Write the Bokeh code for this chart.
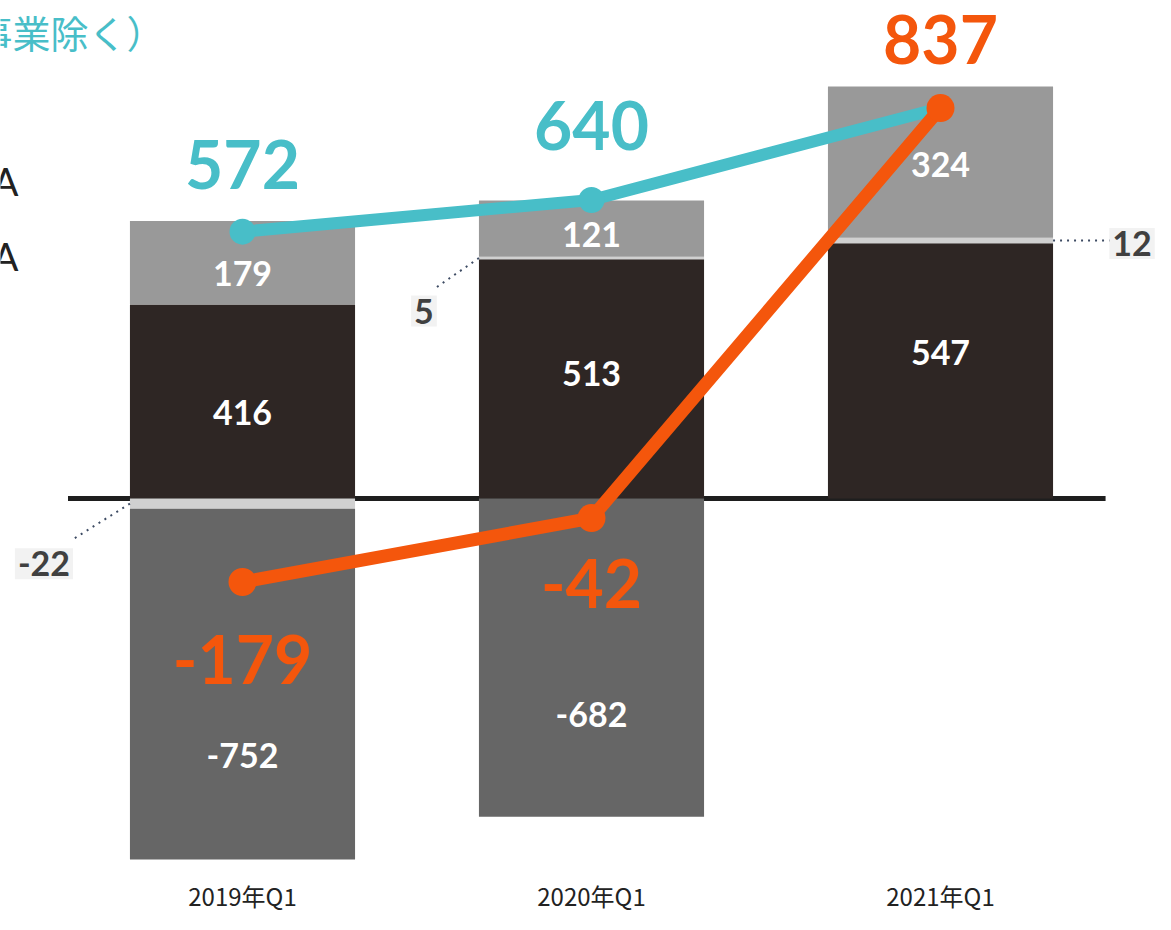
from bokeh.plotting import figure
from bokeh.models import Range1d, Label
from bokeh.core.properties import value
from bokeh.embed import file_html
from bokeh.resources import INLINE

# ---------------- data ----------------
categories = ["2019年Q1", "2020年Q1", "2021年Q1"]
dark = [416, 513, 547]          # dark segment
light = [-22, 5, 12]            # thin light segment
gray = [179, 121, 324]          # top gray segment
neg = [-752, -682, 0]           # negative gray segment
cyan_vals = [572, 640, 837]
orange_vals = [-179, -42, 837]
cyan_labels = ["572", "640", ""]
orange_labels = ["-179", "-42", "837"]
title_text = "事業除く）"
legend_texts = ["A", "A"]

# ---------------- geometry / style ----------------
W, H = 1155, 914
S = 0.4665          # px per unit
ZERO_PX = 498
X0_PX = 242
XSTEP = 349
BW = 0.645

C_DARK = "#2e2624"
C_GRAY = "#999999"
C_LIGHT = "#d0d0d0"
C_NEG = "#666666"
C_CYAN = "#48bec8"
C_ORANGE = "#f4560c"


def dy(px):
    """screen pixels (down positive) -> data units"""
    return -px / S


def dx(px):
    return px / XSTEP


p = figure(width=W, height=H,
           x_range=Range1d(-X0_PX / XSTEP, (W - X0_PX) / XSTEP),
           y_range=Range1d(-(H - ZERO_PX) / S, ZERO_PX / S),
           output_backend="svg", toolbar_location=None,
           x_axis_type=None, y_axis_type=None, min_border=0,
           outline_line_color=None, background_fill_color="white",
           border_fill_color="white")
p.grid.visible = False

xs = list(range(len(categories)))

# baseline (axis) line
p.segment(x0=[xs[0] - 0.5], y0=[0], x1=[xs[-1] + 0.473], y1=[0],
          line_color="#1e1e1e", line_width=5)

# stacked bars (computed from the series)
dark_b = [0] * 3
dark_t = dark
light_b = [d if l > 0 else l for d, l in zip(dark, light)]
light_t = [d + l if l > 0 else 0 for d, l in zip(dark, light)]
gray_b = [d + max(l, 0) for d, l in zip(dark, light)]
gray_t = [b + g for b, g in zip(gray_b, gray)]
neg_t = [min(l, 0) for l in light]
neg_b = [t + n for t, n in zip(neg_t, neg)]

p.vbar(x=xs, bottom=dark_b, top=dark_t, width=BW, fill_color=C_DARK, line_color=None)
p.vbar(x=xs, bottom=light_b, top=light_t, width=BW, fill_color=C_LIGHT, line_color=None)
p.vbar(x=xs, bottom=gray_b, top=gray_t, width=BW, fill_color=C_GRAY, line_color=None)
p.vbar(x=xs, bottom=neg_b, top=neg_t, width=BW, fill_color=C_NEG, line_color=None)

# leader lines + boxed labels for the thin light segments
anchor_side = [-1, -1, 1]
line_end_off = [(-56, 35), (-45, 31), (57, 0)]
label_off = [(-86, 60), (-55, 53), (79, 3)]
for i, l in enumerate(light):
    ax = xs[i] + anchor_side[i] * BW / 2
    ay = (light_b[i] + light_t[i]) / 2
    ex, ey = ax + dx(line_end_off[i][0]), ay + dy(line_end_off[i][1])
    p.segment(x0=[ax], y0=[ay], x1=[ex], y1=[ey], line_color="#3d4b63",
              line_width=2, line_dash="2 5")
    lx, ly = ax + dx(label_off[i][0]), ay + dy(label_off[i][1])
    p.add_layout(Label(x=lx, y=ly, text=str(l), text_align="center",
                       text_baseline="middle", text_font="Lato",
                       text_font_style="bold", text_font_size="34px",
                       text_color="#404040", background_fill_color="#f2f2f2",
                       padding=3))

# white segment labels
seg_centers, seg_texts, seg_x = [], [], []
white_shift = {"dark": [11, -5, -18], "gray": [11, 6, 2], "neg": [71, 57, 0]}
for i in xs:
    for key, b, t, v in (("dark", dark_b[i], dark_t[i], dark[i]),
                         ("gray", gray_b[i], gray_t[i], gray[i]),
                         ("neg", neg_b[i], neg_t[i], neg[i])):
        if v == 0:
            continue
        seg_x.append(i)
        seg_centers.append((b + t) / 2 + dy(white_shift[key][i]))
        seg_texts.append(str(v))
p.text(x=seg_x, y=seg_centers, text=seg_texts, text_color="white",
       text_font=value("Lato"), text_font_style="bold", text_font_size="34px",
       text_align="center", text_baseline="middle")

# lines
p.line(x=xs, y=cyan_vals, line_color=C_CYAN, line_width=12)
p.scatter(x=xs, y=cyan_vals, size=26, fill_color=C_CYAN, line_color=None)
p.line(x=xs, y=orange_vals, line_color=C_ORANGE, line_width=13)
p.scatter(x=xs, y=orange_vals, size=28, fill_color=C_ORANGE, line_color=None)

# big value labels
cyan_off = [-67, -74, -75]
orange_off = [77, 65, -69]
p.text(x=xs, y=[v + dy(o) for v, o in zip(cyan_vals, cyan_off)], text=cyan_labels,
       text_color=C_CYAN, text_font=value("Lato"), text_font_style="bold",
       text_font_size="66px", text_align="center", text_baseline="middle")
p.text(x=xs, y=[v + dy(o) for v, o in zip(orange_vals, orange_off)], text=orange_labels,
       text_color=C_ORANGE, text_font=value("Lato"), text_font_style="bold",
       text_font_size="66px", text_align="center", text_baseline="middle")

# category labels
y_bottom = -(H - ZERO_PX) / S
p.text(x=xs, y=[y_bottom + 19 / S] * 3, text=categories, text_color="#222222",
       text_font=value("Noto Sans CJK JP"), text_font_size="24px",
       text_align="center", text_baseline="middle")

# partially visible title and legend text at the left edge
x_left = -X0_PX / XSTEP
y_top = ZERO_PX / S
p.add_layout(Label(x=x_left - dx(26), y=y_top + dy(31), text=title_text,
                   text_color=C_CYAN, text_font="Noto Sans CJK JP",
                   text_font_size="38px", text_align="left", text_baseline="middle"))
for k, ypx in enumerate([180, 255]):
    p.add_layout(Label(x=x_left + dx(18), y=y_top + dy(ypx), text=legend_texts[k],
                       text_color="#222222", text_font="Lato",
                       text_font_size="38px", text_align="right",
                       text_baseline="middle"))

open("out.html", "w").write(file_html(p, INLINE))
